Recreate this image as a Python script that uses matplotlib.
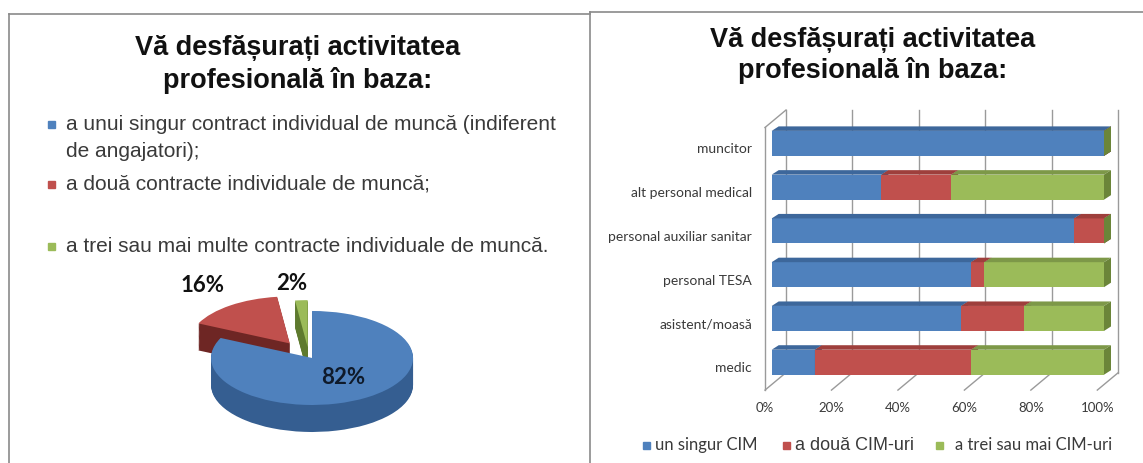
import numpy as np
import matplotlib
matplotlib.use("Agg")
import matplotlib.pyplot as plt
from matplotlib.lines import Line2D
from matplotlib.patches import Rectangle, Polygon

# === DATA ===
title = "Vă desfășurați activitatea\nprofesională în baza:"

pie_labels = [
    "a unui singur contract individual de muncă (indiferent\nde angajatori);",
    "a două contracte individuale de muncă;",
    "a trei sau mai multe contracte individuale de muncă.",
]
pie_values = [82, 16, 2]

categories = ["muncitor", "alt personal medical", "personal auxiliar sanitar",
              "personal TESA", "asistent/moasă", "medic"]
un_singur = [100, 33, 91, 60, 57, 13]
doua = [0, 21, 9, 4, 19, 47]
trei = [0, 46, 0, 36, 24, 40]
series_names = ["un singur CIM", "a două CIM-uri", "a trei sau mai CIM-uri"]
x_ticks = [0, 20, 40, 60, 80, 100]

# === STYLE ===
W, H = 1143, 463
front = ["#4F81BD", "#C0504D", "#9BBB59"]
top_c = ["#3D679B", "#9E3F3C", "#7D9848"]
cap_c = ["#365C8A", "#8A3735", "#6B8539"]
side_c = ["#355E91", "#6E2624", "#5E7A2E"]
text_c = "#3a3a3a"
grid_c = "#9a9a9a"


def fx(x):
    return x / W


def fy(y):
    return 1 - y / H


fig = plt.figure(figsize=(W / 100, H / 100), dpi=100)

# panel borders
for xs, ys in [((9, 590), (14, 14)), ((9, 9), (14, H)),
               ((590, W), (12, 12)), ((590, 590), (12, H))]:
    fig.add_artist(Line2D([fx(xs[0]), fx(xs[1])], [fy(ys[0]), fy(ys[1])],
                          color="#8a8a8a", lw=1.2, transform=fig.transFigure))

# titles
t1, t2 = title.split("\n")
for cx, y1, y2 in [(298, 48, 81), (873, 40, 71)]:
    fig.text(fx(cx), fy(y1), t1, ha="center", va="center", fontsize=19.5,
             fontweight="bold", family="Liberation Sans", color="#111111")
    fig.text(fx(cx), fy(y2), t2, ha="center", va="center", fontsize=19.5,
             fontweight="bold", family="Liberation Sans", color="#111111")

# === LEFT: legend of pie ===
baselines = [[130, 157], [190], [252]]
for lab, col, bl in zip(pie_labels, front, baselines):
    fig.add_artist(Rectangle((fx(48), fy(bl[0] - 2)), 7 / W, 7 / H,
                             color=col, transform=fig.transFigure))
    for line, y in zip(lab.split("\n"), bl):
        fig.text(fx(66), fy(y), line, ha="left", va="baseline", fontsize=15,
                 family="Liberation Sans", color=text_c)

# === LEFT: 3D-ish pie ===
a, b = 101.0, 47.0          # ellipse half axes, px
cx, cy = 308.8, 355.6       # pie centre, px
x0, x1, y0, y1 = 180, 450, 270, 450
pax = fig.add_axes([fx(x0), fy(y1), (x1 - x0) / W, (y1 - y0) / H])
explode = [0.06, 0.32, 0.18]
depth = 27 / b
for k in np.linspace(depth, 0.02, 30):
    pax.pie(pie_values, colors=side_c, explode=explode, startangle=90,
            counterclock=False, center=(0, -k),
            wedgeprops=dict(linewidth=0))
pax.pie(pie_values, colors=front, explode=explode, startangle=90,
        counterclock=False, center=(0, 0), wedgeprops=dict(linewidth=0))
pax.set_aspect("auto")
pax.set_xlim((x0 - cx) / a, (x1 - cx) / a)
pax.set_ylim((cy - y1) / b, (cy - y0) / b)
pax.axis("off")

for v, (px, py), col in zip(pie_values, [(343, 378), (203, 286), (292, 283)],
                            ["#0f1a2a", "#111111", "#111111"]):
    fig.text(fx(px), fy(py), f"{v}%", ha="center", va="center", fontsize=16,
             fontweight="bold", family="Lato", color=col)

# === RIGHT: 3D stacked bars ===
bx0, bx1 = 771.7, 1104.0
by0, by1 = 121.5, 384.1
ax = fig.add_axes([fx(bx0), fy(by1), (bx1 - bx0) / W, (by1 - by0) / H])
ax.set_xlim(0, 100)
ax.set_ylim(len(categories) - 0.5, -0.5)
ax.axis("off")

PX = 100 / (bx1 - bx0)
PY = len(categories) / (by1 - by0)
fdx, fdy = -6.7 * PX, 6 * PY        # floor front plane
wdx, wdy = 14.3 * PX, -11.5 * PY    # back wall plane
ddx, ddy = 7 * PX, -4.5 * PY        # bar depth
ybot, ytop = len(categories) - 0.5, -0.5

kw = dict(color=grid_c, lw=1.0, clip_on=False, zorder=1)
for v in x_ticks:
    ax.plot([v + wdx, v + wdx], [ybot + wdy, ytop + wdy], **kw)
    ax.plot([v + fdx, v + wdx], [ybot + fdy, ybot + wdy], **kw)
ax.plot([fdx, fdx], [ybot + fdy, ytop + fdy], **kw)
ax.plot([fdx, wdx], [ytop + fdy, ytop + wdy], **kw)

yy = np.arange(len(categories))
bh = 25 * PY
left = np.zeros(len(categories))
for j, vals in enumerate([un_singur, doua, trei]):
    vals = np.array(vals, dtype=float)
    z = 3 + 3 * j
    ax.barh(yy, vals, left=left, height=bh, color=front[j], zorder=z,
            linewidth=0, clip_on=False)
    for i in range(len(categories)):
        l, r = left[i], left[i] + vals[i]
        t, btm = yy[i] - bh / 2, yy[i] + bh / 2
        ax.add_patch(Polygon([(l, t), (r, t), (r + ddx, t + ddy), (l + ddx, t + ddy)],
                             closed=True, color=top_c[j], lw=0, zorder=z + 1,
                             clip_on=False))
        ax.add_patch(Polygon([(r, t), (r, btm), (r + ddx, btm + ddy), (r + ddx, t + ddy)],
                             closed=True, color=cap_c[j], lw=0, zorder=z + 2,
                             clip_on=False))
    left = left + vals

for i, cat in enumerate(categories):
    ax.text((752 - bx0) * PX, i + fdy, cat, ha="right", va="center",
            fontsize=10, family="Lato", color=text_c, clip_on=False)

for v in x_ticks:
    ax.text(v + fdx, ybot + (408 - by1) * PY, f"{v}%", ha="center",
            va="center", fontsize=9.5, family="Lato", color=text_c,
            clip_on=False)

# legend
leg = [(643, 655, "Lato", 12), (783, 795, "Liberation Sans", 13),
       (936, 955, "Lato", 12)]
for (sx, tx, fam, fs), name, col in zip(leg, series_names, front):
    fig.add_artist(Rectangle((fx(sx), fy(449)), 7 / W, 7 / H, color=col,
                             transform=fig.transFigure))
    fig.text(fx(tx), fy(450), name, ha="left", va="baseline", fontsize=fs,
             family=fam, color=text_c)

fig.savefig("out.png", dpi=100)
